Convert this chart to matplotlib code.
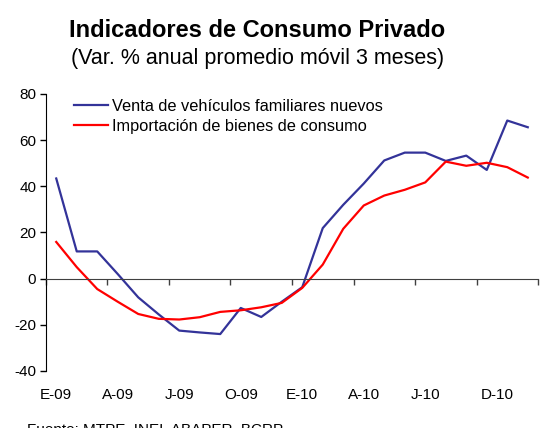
import matplotlib.pyplot as plt
from matplotlib import transforms

plt.rcParams['font.family'] = ['Liberation Sans', 'DejaVu Sans']
plt.rcParams['axes.unicode_minus'] = False

# Monthly data, Jan-09 .. Dec-10
months = list(range(24))
vehiculos = [43.4, 11.8, 11.8, 2.0, -8.1, -15.5, -22.5, -23.3, -24.0, -12.7, -16.6, -10.0,
             -3.7, 21.9, 32.0, 41.2, 51.2, 54.6, 54.6, 51.0, 53.3, 47.1, 68.5, 65.6]
importacion = [15.9, 5.0, -4.5, -10.0, -15.3, -17.4, -17.7, -16.7, -14.4, -13.7, -12.4, -10.5,
               -4.0, 6.1, 21.6, 31.7, 36.0, 38.5, 41.7, 50.7, 48.9, 50.2, 48.3, 43.8]
tick_pos = [0, 3, 6, 9, 12, 15, 18, 21.5]
tick_labels = ['E-09', 'A-09', 'J-09', 'O-09', 'E-10', 'A-10', 'J-10', 'D-10']
boundaries = [-0.5, 2.5, 5.5, 8.5, 11.5, 14.5, 17.5, 20.5, 23.5]

fig = plt.figure(figsize=(5.41, 4.28), dpi=100)
ax = fig.add_axes([0.085, 0.1332, 0.9095, 0.6472])

ax.plot(months, vehiculos, color='#333399', lw=1.6, label='Venta de vehículos familiares nuevos')
ax.plot(months, importacion, color='#ff0000', lw=1.6, label='Importación de bienes de consumo')

ax.set_xlim(-0.5, 23.5)
ax.set_ylim(-40, 80)
ax.set_yticks([-40, -20, 0, 20, 40, 60, 80])
ax.tick_params(axis='y', direction='out', length=4, width=1, labelsize=11, pad=3)

# x axis line sits at zero, labels at the bottom
ax.spines['bottom'].set_position(('data', 0))
ax.spines['bottom'].set_color('#404040')
ax.spines['top'].set_visible(False)
ax.spines['right'].set_visible(False)
ax.set_xticks(boundaries)
ax.set_xticklabels([])
ax.tick_params(axis='x', direction='out', length=4, width=1, color='#404040')

trans = transforms.blended_transform_factory(ax.transData, ax.transAxes)
for p, lab in zip(tick_pos, tick_labels):
    ax.text(p, -0.088, lab, transform=trans, ha='center', va='center', fontsize=11)

ax.legend(loc='upper left', bbox_to_anchor=(0.043, 1.005), frameon=False, fontsize=11.8,
          handlelength=2.1, handletextpad=0.25, labelspacing=0.3, borderaxespad=0)

fig.text(0.475, 0.913, 'Indicadores de Consumo Privado', ha='center', va='baseline',
         fontsize=17, fontweight='bold')
fig.text(0.477, 0.85, '(Var. % anual promedio móvil 3 meses)', ha='center', va='baseline',
         fontsize=15.5)
fig.text(0.05, 0.012, 'Fuente: MTPE, INEI, ABAPER, BCRP', ha='left', va='top', fontsize=11)

fig.savefig('out.png', dpi=100)
